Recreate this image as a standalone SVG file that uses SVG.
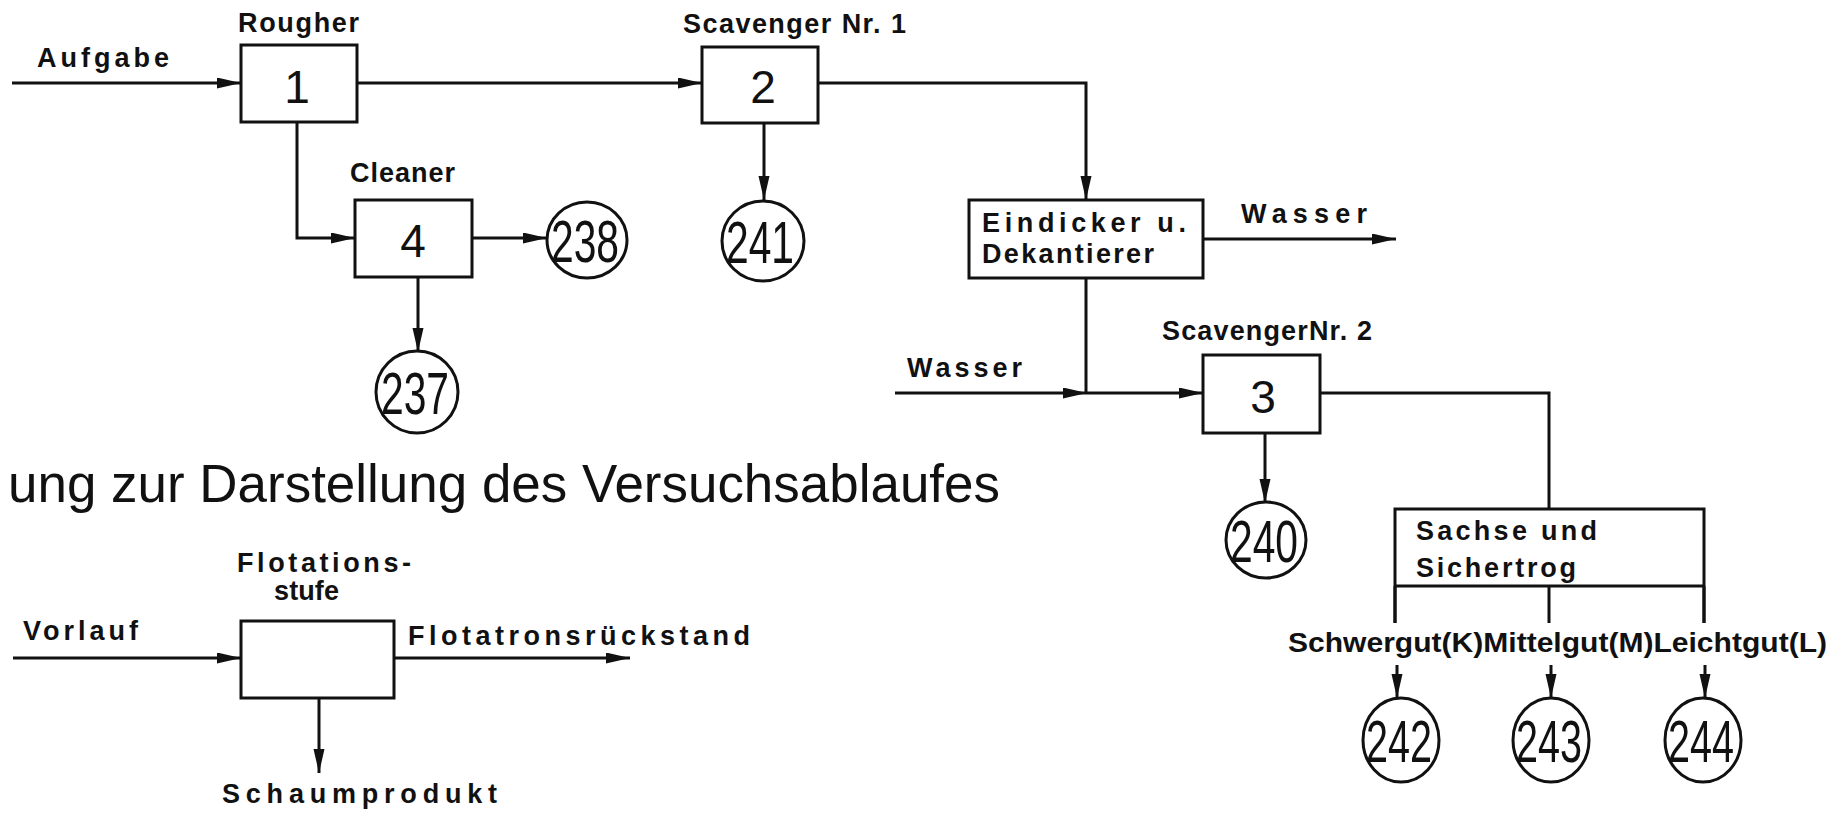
<svg xmlns="http://www.w3.org/2000/svg" width="1847" height="814" viewBox="0 0 1847 814">
<style>
.bg{fill:#fff}
.box{fill:none;stroke:#111;stroke-width:3}
.ell{fill:none;stroke:#111;stroke-width:3}
.ln{fill:none;stroke:#111;stroke-width:3}
.lbl{font-family:"Liberation Sans",Arial,sans-serif;font-weight:bold;font-size:27px;fill:#111}
.num{font-family:"Liberation Sans",Arial,sans-serif;font-size:46px;fill:#111;text-anchor:middle}
.cnum{font-family:"Liberation Sans",Arial,sans-serif;font-size:60px;fill:#111;text-anchor:middle}
.title{font-family:"Liberation Sans",Arial,sans-serif;font-size:53px;fill:#111}
</style>
<defs>
<marker id="ah" markerUnits="userSpaceOnUse" markerWidth="26" markerHeight="12" refX="24" refY="5.5" orient="auto">
<path d="M0,0 L24,5.5 L0,11 Z" fill="#111"/>
</marker>
</defs>
<rect class="bg" x="0" y="0" width="1847" height="814"/>

<g id="connectors">
<path class="ln" d="M12,83 H241" marker-end="url(#ah)"/>
<path class="ln" d="M357,83 H702" marker-end="url(#ah)"/>
<path class="ln" d="M297,122 V238 H355" marker-end="url(#ah)"/>
<path class="ln" d="M472,238 H547" marker-end="url(#ah)"/>
<path class="ln" d="M418,277 V352" marker-end="url(#ah)"/>
<path class="ln" d="M764,123 V200" marker-end="url(#ah)"/>
<path class="ln" d="M818,83 H1086 V200" marker-end="url(#ah)"/>
<path class="ln" d="M1203,239 H1396" marker-end="url(#ah)"/>
<path class="ln" d="M1086,278 V393"/>
<path class="ln" d="M895,393 H1087" marker-end="url(#ah)"/>
<path class="ln" d="M1087,393 H1203" marker-end="url(#ah)"/>
<path class="ln" d="M1265,433 V503" marker-end="url(#ah)"/>
<path class="ln" d="M1320,393 H1549 V509"/>
<path class="ln" d="M1395,586 V623"/>
<path class="ln" d="M1549,586 V623"/>
<path class="ln" d="M1704,586 V623"/>
<path class="ln" d="M1397,665 V698" marker-end="url(#ah)"/>
<path class="ln" d="M1551,665 V698" marker-end="url(#ah)"/>
<path class="ln" d="M1705,665 V698" marker-end="url(#ah)"/>
<path class="ln" d="M13,658 H241" marker-end="url(#ah)"/>
<path class="ln" d="M394,658 H630" marker-end="url(#ah)"/>
<path class="ln" d="M319,698 V773" marker-end="url(#ah)"/>
</g>

<g id="labels">
<text class="lbl" x="37" y="67" textLength="132" lengthAdjust="spacing">Aufgabe</text>
<text class="lbl" x="1241" y="223" textLength="126" lengthAdjust="spacing">Wasser</text>
<text class="lbl" x="907" y="377" textLength="115" lengthAdjust="spacing">Wasser</text>
<text class="lbl" x="1288" y="652" font-size="28" textLength="539" lengthAdjust="spacingAndGlyphs">Schwergut(K)Mittelgut(M)Leichtgut(L)</text>
<text class="lbl" x="23" y="640" textLength="115" lengthAdjust="spacing">Vorlauf</text>
<text class="lbl" x="408" y="645" textLength="342" lengthAdjust="spacing">Flotatronsrückstand</text>
<text class="lbl" x="222" y="803" textLength="275" lengthAdjust="spacing">Schaumprodukt</text>
<text class="title" x="8" y="502" textLength="992" lengthAdjust="spacingAndGlyphs">ung zur Darstellung des Versuchsablaufes</text>
</g>

<g id="node-1">
<rect class="box" x="241" y="45" width="116" height="77"/>
<text class="num" x="297" y="103">1</text>
<text class="lbl" x="238" y="32" textLength="121" lengthAdjust="spacing">Rougher</text>
</g>
<g id="node-2">
<rect class="box" x="702" y="47" width="116" height="76"/>
<text class="num" x="763" y="103">2</text>
<text class="lbl" x="683" y="33" textLength="223" lengthAdjust="spacing">Scavenger Nr. 1</text>
</g>
<g id="node-4">
<rect class="box" x="355" y="200" width="117" height="77"/>
<text class="num" x="413" y="257">4</text>
<text class="lbl" x="350" y="182" textLength="105" lengthAdjust="spacing">Cleaner</text>
</g>
<g id="node-3">
<rect class="box" x="1203" y="355" width="117" height="78"/>
<text class="num" x="1263" y="413">3</text>
<text class="lbl" x="1162" y="340" textLength="210" lengthAdjust="spacing">ScavengerNr. 2</text>
</g>
<g id="node-eindicker">
<rect class="box" x="969" y="200" width="234" height="78"/>
<text class="lbl" x="982" y="232" textLength="204" lengthAdjust="spacing">Eindicker u.</text>
<text class="lbl" x="982" y="263" textLength="172" lengthAdjust="spacing">Dekantierer</text>
</g>
<g id="node-sachse">
<path class="box" d="M1395,623 V509 H1704 V623 M1395,586 H1704"/>
<text class="lbl" x="1416" y="540" textLength="181" lengthAdjust="spacing">Sachse und</text>
<text class="lbl" x="1416" y="577" textLength="160" lengthAdjust="spacing">Sichertrog</text>
</g>
<g id="node-flot">
<rect class="box" x="241" y="621" width="153" height="77"/>
<text class="lbl" x="237" y="572" textLength="174" lengthAdjust="spacing">Flotations-</text>
<text class="lbl" x="274" y="600" textLength="65" lengthAdjust="spacing">stufe</text>
</g>

<g id="node-238">
<ellipse class="ell" cx="587" cy="240" rx="40" ry="38"/>
<text class="cnum" x="585" y="262" textLength="68" lengthAdjust="spacingAndGlyphs">238</text>
</g>
<g id="node-237">
<ellipse class="ell" cx="417" cy="392" rx="41" ry="41"/>
<text class="cnum" x="415" y="414" textLength="68" lengthAdjust="spacingAndGlyphs">237</text>
</g>
<g id="node-241">
<ellipse class="ell" cx="763" cy="241" rx="41" ry="40"/>
<text class="cnum" x="760" y="263" textLength="68" lengthAdjust="spacingAndGlyphs">241</text>
</g>
<g id="node-240">
<ellipse class="ell" cx="1266" cy="540" rx="40" ry="38"/>
<text class="cnum" x="1264" y="562" textLength="68" lengthAdjust="spacingAndGlyphs">240</text>
</g>
<g id="node-242">
<ellipse class="ell" cx="1401" cy="740" rx="38" ry="42"/>
<text class="cnum" x="1399" y="762" textLength="66" lengthAdjust="spacingAndGlyphs">242</text>
</g>
<g id="node-243">
<ellipse class="ell" cx="1551" cy="740" rx="38" ry="42"/>
<text class="cnum" x="1549" y="762" textLength="66" lengthAdjust="spacingAndGlyphs">243</text>
</g>
<g id="node-244">
<ellipse class="ell" cx="1703" cy="740" rx="38" ry="42"/>
<text class="cnum" x="1701" y="762" textLength="66" lengthAdjust="spacingAndGlyphs">244</text>
</g>
</svg>
